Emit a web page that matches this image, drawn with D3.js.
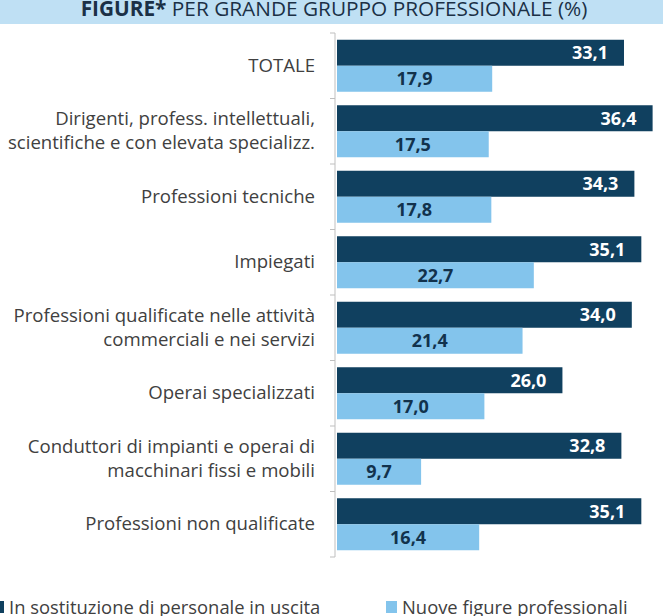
<!DOCTYPE html>
<html>
<head>
<meta charset="utf-8">
<script src="https://cdn.jsdelivr.net/npm/d3@7"></script>
<style>
	body { margin: 0; background: #fff; }
	svg { display: block; font-family: 'Open Sans', sans-serif; }
</style>
</head>
<body>
<div id="chart"></div>
<script>
	'use strict';

	const categories = [
		['TOTALE'],
		['Dirigenti, profess. intellettuali,', 'scientifiche e con elevata specializz.'],
		['Professioni tecniche'],
		['Impiegati'],
		['Professioni qualificate nelle attività', 'commerciali e nei servizi'],
		['Operai specializzati'],
		['Conduttori di impianti e operai di', 'macchinari fissi e mobili'],
		['Professioni non qualificate'],
	];
	const sostituzione = [33.1, 36.4, 34.3, 35.1, 34.0, 26.0, 32.8, 35.1];
	const nuoveFigure = [17.9, 17.5, 17.8, 22.7, 21.4, 17.0, 9.7, 16.4];
	const seriesNames = ['In sostituzione di personale in uscita', 'Nuove figure professionali'];

	const width = 663;
	const height = 616;
	const darkBlue = '#10405f';
	const lightBlue = '#83c4ec';
	const textGrey = '#404040';

	const svg = d3.select('#chart').append('svg')
		.attr('width', width)
		.attr('height', height);

	// title band, cut at top
	svg.append('rect')
		.attr('x', 0).attr('y', 0)
		.attr('width', width).attr('height', 24)
		.attr('fill', '#bfe0f4');

	const title = svg.append('text')
		.attr('x', 334)
		.attr('y', 15.5)
		.attr('text-anchor', 'middle')
		.attr('fill', '#1b3046')
		.style('font-size', '20.8px');
	title.append('tspan').attr('font-weight', 'bold').text('FIGURE*');
	title.append('tspan').text(' PER GRANDE GRUPPO PROFESSIONALE (%)');

	const x = d3.scaleLinear().domain([0, 36.4]).range([337, 652.6]);
	const y = d3.scaleBand().domain(d3.range(categories.length)).range([33, 557]);
	const barH = 26;
	const fmt = (v) => d3.format('.1f')(v).replace('.', ',');

	// axis line with ticks between groups
	svg.append('line')
		.attr('x1', 335).attr('x2', 335)
		.attr('y1', y.range()[0]).attr('y2', y.range()[1])
		.attr('stroke', '#bfbfbf');

	svg.append('g')
		.selectAll('line')
		.data(d3.range(categories.length + 1))
		.join('line')
		.attr('x1', 330).attr('x2', 335)
		.attr('y1', (i) => y.range()[0] + i * y.step())
		.attr('y2', (i) => y.range()[0] + i * y.step())
		.attr('stroke', '#bfbfbf');

	const groups = svg.append('g')
		.selectAll('g')
		.data(categories)
		.join('g')
		.attr('transform', (d, i) => `translate(0,${y(i)})`);

	const barTop = (y.bandwidth() - 2 * barH) / 2;

	groups.append('rect')
		.attr('x', x(0))
		.attr('y', barTop)
		.attr('width', (d, i) => x(sostituzione[i]) - x(0))
		.attr('height', barH)
		.attr('fill', darkBlue);

	groups.append('rect')
		.attr('x', x(0))
		.attr('y', barTop + barH)
		.attr('width', (d, i) => x(nuoveFigure[i]) - x(0))
		.attr('height', barH)
		.attr('fill', lightBlue);

	groups.append('text')
		.attr('x', (d, i) => x(sostituzione[i]) - 16)
		.attr('y', barTop + barH / 2 + 6.5)
		.attr('text-anchor', 'end')
		.attr('fill', '#fff')
		.attr('font-weight', 'bold')
		.style('font-size', '18px')
		.text((d, i) => fmt(sostituzione[i]));

	groups.append('text')
		.attr('x', (d, i) => (x(nuoveFigure[i]) + x(0)) / 2)
		.attr('y', barTop + barH * 1.5 + 6.5)
		.attr('text-anchor', 'middle')
		.attr('fill', '#12324c')
		.attr('font-weight', 'bold')
		.style('font-size', '18px')
		.text((d, i) => fmt(nuoveFigure[i]));

	// category labels
	groups.append('text')
		.attr('text-anchor', 'end')
		.attr('fill', textGrey)
		.style('font-size', '18.6px')
		.each(function (d) {
			const t = d3.select(this);
			const y0 = y.bandwidth() / 2 + 6 - (d.length - 1) * 12;
			d.forEach((line, k) => {
				t.append('tspan').attr('x', 315).attr('y', y0 + k * 24).text(line);
			});
		});

	// legend
	const legend = svg.append('g');
	const legendItems = [
		{ name: seriesNames[0], color: darkBlue, x: -7 },
		{ name: seriesNames[1], color: lightBlue, x: 386 },
	];
	legendItems.forEach((item) => {
		legend.append('rect')
			.attr('x', item.x).attr('y', 601)
			.attr('width', 11).attr('height', 12)
			.attr('fill', item.color);
		legend.append('text')
			.attr('x', item.x + 16)
			.attr('y', 614)
			.attr('fill', textGrey)
			.style('font-size', '18.4px')
			.text(item.name);
	});
</script>
</body>
</html>
